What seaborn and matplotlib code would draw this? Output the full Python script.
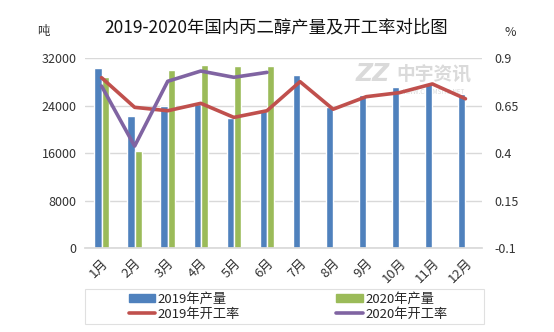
import numpy as np
import pandas as pd
import matplotlib
matplotlib.use("Agg")
import matplotlib.pyplot as plt
from matplotlib.patches import Rectangle, Patch
from matplotlib.lines import Line2D
import seaborn as sns

months = ["1月", "2月", "3月", "4月", "5月", "6月", "7月", "8月", "9月", "10月", "11月", "12月"]
output_2019 = [30400, 22300, 24000, 24300, 22000, 23200, 29200, 23800, 25800, 27200, 27900, 26000]
output_2020 = [28850, 16400, 30000, 30850, 30700, 30750, np.nan, np.nan, np.nan, np.nan, np.nan, np.nan]
rate_2019 = [0.798, 0.642, 0.624, 0.663, 0.589, 0.624, 0.777, 0.632, 0.698, 0.719, 0.765, 0.687]
rate_2020 = [0.754, 0.438, 0.779, 0.833, 0.800, 0.826, np.nan, np.nan, np.nan, np.nan, np.nan, np.nan]
left_ticks = [0, 8000, 16000, 24000, 32000]
right_ticks = [-0.1, 0.15, 0.4, 0.65, 0.9]
right_labels = ["-0.1", "0.15", "0.4", "0.65", "0.9"]

series_names = ["2019年产量", "2020年产量", "2019年开工率", "2020年开工率"]
colors = ["#4F81BD", "#9BBB59", "#C0504D", "#8064A2"]

sns.set_theme(style="white")
plt.rcParams["font.family"] = ["Noto Sans CJK SC", "DejaVu Sans"]
plt.rcParams["axes.unicode_minus"] = False

bars = pd.DataFrame({
    "month": months * 2,
    "series": [series_names[0]] * len(months) + [series_names[1]] * len(months),
    "value": list(output_2019) + list(output_2020),
})
pos = np.arange(len(months))
lines = pd.DataFrame({
    "x": list(pos) * 2,
    "series": [series_names[2]] * len(months) + [series_names[3]] * len(months),
    "rate": list(rate_2019) + list(rate_2020),
}).dropna()

fig = plt.figure(figsize=(5.54, 3.32), dpi=100)
fig.patch.set_facecolor("white")
ax = fig.add_axes([85 / 554, 1 - 248.3 / 332, (482 - 85) / 554, (248.3 - 58.3) / 332])
ax.patch.set_alpha(0)

sns.barplot(data=bars, x="month", y="value", hue="series", order=months,
            hue_order=series_names[:2], palette=colors[:2], width=0.44,
            gap=0, saturation=1, ax=ax, legend=False, errorbar=None)
ax.set_xlim(-0.5, len(months) - 0.5)
ax.set_ylim(0, 32000)
ax.set_yticks(left_ticks)
ax.set_yticklabels([str(t) for t in left_ticks], fontsize=9, color="#333333")
ax.grid(axis="y", color="#D9D9D9", lw=1)
ax.set_axisbelow(True)
for s in ["top", "right", "left"]:
    ax.spines[s].set_visible(False)
ax.spines["bottom"].set_color("#D9D9D9")
ax.set_xlabel("")
ax.set_ylabel("")
ax.tick_params(axis="both", length=0, pad=6)
plt.setp(ax.get_xticklabels(), rotation=45, ha="right", rotation_mode="anchor",
         fontsize=9.5, color="#333333")

ax2 = ax.twinx()
ax2.patch.set_alpha(0)
sns.lineplot(data=lines, x="x", y="rate", hue="series", hue_order=series_names[2:],
             palette=colors[2:], lw=2.6, ax=ax2, legend=False, sort=False)
ax2.set_ylim(-0.1, 0.9)
ax2.set_yticks(right_ticks)
ax2.set_yticklabels(right_labels, fontsize=9, color="#333333")
ax2.tick_params(axis="y", length=0, pad=9)
for s in ax2.spines.values():
    s.set_visible(False)
ax2.set_ylabel("")
ax2.set_xlabel("")
ax.set_xlim(-0.5, len(months) - 0.5)

# watermark (behind the data)
wm = "#DADADA"
fig.text(373 / 554, 1 - 74 / 332, "ZZ", fontsize=17, color=wm, zorder=-5,
         ha="center", va="center", fontweight="bold", style="italic", family="DejaVu Sans")
fig.text(434 / 554, 1 - 74 / 332, "中宇资讯", fontsize=13.5, color=wm, zorder=-5,
         ha="center", va="center", fontweight="bold")
fig.text(434 / 554, 1 - 92 / 332, "WWW.CHEMSITE.NET", fontsize=4.5, color=wm, zorder=-5,
         ha="center", va="center")

fig.text(276 / 554, 1 - 27 / 332, "2019-2020年国内丙二醇产量及开工率对比图",
         fontsize=12.5, ha="center", va="center", color="#111111")
fig.text(43 / 554, 1 - 31 / 332, "吨", fontsize=9, ha="center", va="center", color="#333333")
fig.text(510 / 554, 1 - 33 / 332, "%", fontsize=9, ha="center", va="center", color="#333333")

# legend frame and legend
fig.patches.append(Rectangle((85 / 554, 1 - 324 / 332), (484 - 85) / 554, (324 - 289) / 332,
                             transform=fig.transFigure, fill=False, edgecolor="#E0E0E0", lw=0.8))
handles = [Patch(color=colors[0]), Line2D([], [], color=colors[2], lw=2.6),
           Patch(color=colors[1]), Line2D([], [], color=colors[3], lw=2.6)]
labels = [series_names[0], series_names[2], series_names[1], series_names[3]]
fig.legend(handles, labels, ncol=2, frameon=False, fontsize=9.5,
           loc="center", bbox_to_anchor=(288 / 554, 1 - 306.5 / 332),
           handlelength=2.0, handleheight=0.6, handletextpad=0.2,
           columnspacing=7.3, labelspacing=0.15, borderpad=0)

fig.savefig("out.png", dpi=100, facecolor="white")
